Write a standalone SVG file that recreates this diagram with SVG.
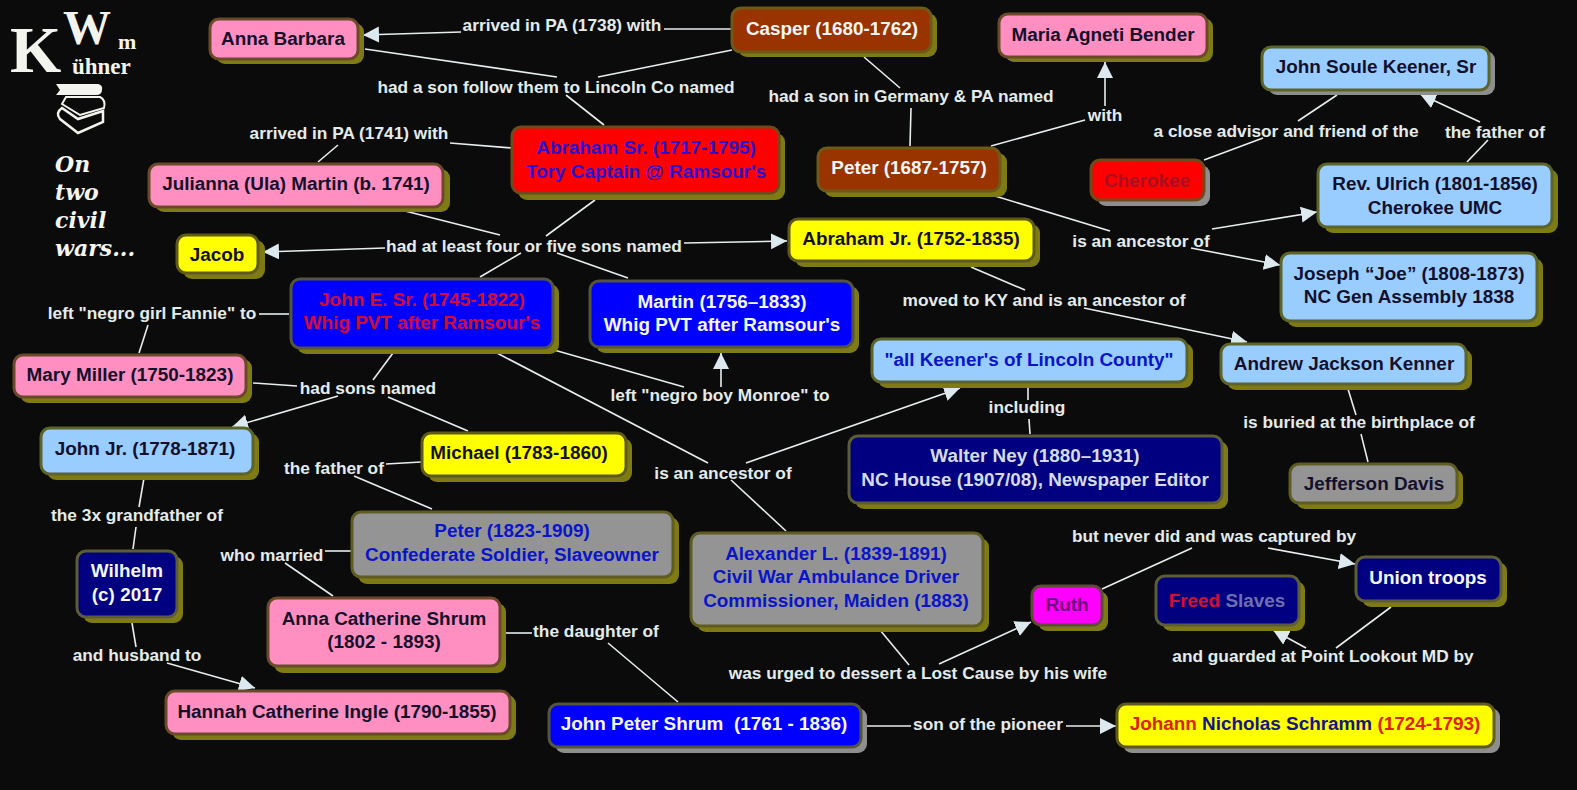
<svg xmlns="http://www.w3.org/2000/svg" width="1577" height="790" viewBox="0 0 1577 790">
<style>
.s{fill:#7e7b14}.sg{fill:#8e8e8e}
.b{stroke-width:3}
.pink{fill:#ff8fc0;stroke:#6b4a2a}.lb{fill:#99ccff;stroke:#5c6428}.yl{fill:#ffff00;stroke:#5e5a1c}.bl{fill:#0000ff;stroke:#55553e}.nv{fill:#000080;stroke:#5c5c36}.gr{fill:#949494;stroke:#5e5c20}.br{fill:#993300;stroke:#6e5a18}.rd{fill:#ff0000;stroke:#6f4a1a}.mg{fill:#ff00ff;stroke:#604a3a}
text{font-family:"Liberation Sans",Arial,sans-serif;font-weight:700;font-size:18.9px;text-anchor:middle}
#labels text{font-size:17.3px}
.l{fill:#e4ebeb}.d{fill:#14102c}.w{fill:#f4f6f6}.u{fill:#0a14c8}
.c line{stroke:#e8eef0;stroke-width:1.6}
.a{marker-end:url(#arr)}
#logo .logo{font-family:"Liberation Serif",serif;fill:#f4f4ee;text-anchor:start}
#logo .say{font-family:"DejaVu Serif",serif;font-style:italic;font-size:22px;fill:#f6f6f0;text-anchor:start}
</style>
<defs>
<marker id="arr" markerUnits="userSpaceOnUse" markerWidth="18" markerHeight="18" refX="16" refY="8" orient="auto"><path d="M0,0L16,8L0,16Z" fill="#dce9ee"/></marker>
</defs>
<rect width="1577" height="790" fill="#0b0b0b"/>
<g id="logo">
<text class="logo" x="10" y="72" style="font-size:66px">K</text>
<text class="logo" x="63" y="44" style="font-size:48px">W</text>
<text class="logo" x="118" y="49" style="font-size:22px">m</text>
<text class="logo" x="72" y="74" style="font-size:23px">ühner</text>
<path d="M56,84H98Q103,85 102,90Q102,95 96,95H56L60,90Z" fill="#f4f4ee"/>
<path d="M62,104L66,97H100Q106,100 104,108L80,115Z" fill="none" stroke="#f4f4ee" stroke-width="2"/>
<path d="M62,108Q55,113 60,119L78,133L103,122V111L78,119L62,108Z" fill="none" stroke="#f4f4ee" stroke-width="2.5"/>
<text class="say" x="55" y="172">On</text>
<text class="say" x="55" y="200">two</text>
<text class="say" x="55" y="228">civil</text>
<text class="say" x="55" y="256">wars...</text>
</g>
<g id="connectors" class="c">
<line x1="664" y1="29" x2="732" y2="29"/>
<line class="a" x1="461" y1="32" x2="363" y2="35"/>
<line x1="732" y1="50" x2="598" y2="77"/>
<line x1="365" y1="49" x2="557" y2="77"/>
<line x1="566" y1="95" x2="604" y2="125"/>
<line x1="864" y1="57" x2="900" y2="88"/>
<line x1="911" y1="108" x2="910" y2="146"/>
<line x1="991" y1="146" x2="1085" y2="120"/>
<line class="a" x1="1105" y1="106" x2="1105" y2="62"/>
<line x1="1204" y1="160" x2="1263" y2="138"/>
<line x1="1298" y1="121" x2="1337" y2="95"/>
<line x1="1467" y1="162" x2="1488" y2="140"/>
<line class="a" x1="1480" y1="122" x2="1420" y2="94"/>
<line x1="995" y1="196" x2="1110" y2="231"/>
<line class="a" x1="1212" y1="229" x2="1317" y2="212"/>
<line class="a" x1="1191" y1="248" x2="1280" y2="265"/>
<line x1="971" y1="267" x2="1025" y2="290"/>
<line class="a" x1="1084" y1="308" x2="1247" y2="342"/>
<line x1="405" y1="211" x2="500" y2="235"/>
<line x1="595" y1="200" x2="546" y2="236"/>
<line class="a" x1="385" y1="248" x2="263" y2="252"/>
<line class="a" x1="684" y1="243" x2="787" y2="241"/>
<line x1="521" y1="253" x2="480" y2="277"/>
<line x1="557" y1="253" x2="628" y2="278"/>
<line x1="450" y1="143" x2="512" y2="148"/>
<line x1="338" y1="145" x2="318" y2="162"/>
<line x1="289" y1="314" x2="259" y2="314"/>
<line x1="148" y1="325" x2="139" y2="353"/>
<line x1="253" y1="383" x2="297" y2="386"/>
<line x1="393" y1="353" x2="373" y2="380"/>
<line class="a" x1="338" y1="396" x2="232" y2="427"/>
<line x1="388" y1="397" x2="468" y2="431"/>
<line x1="421" y1="462" x2="386" y2="464"/>
<line x1="354" y1="476" x2="432" y2="509"/>
<line x1="144" y1="478" x2="139" y2="507"/>
<line x1="136" y1="527" x2="133" y2="549"/>
<line x1="132" y1="623" x2="136" y2="647"/>
<line class="a" x1="167" y1="663" x2="255" y2="688"/>
<line x1="352" y1="551" x2="325" y2="551"/>
<line x1="285" y1="563" x2="333" y2="596"/>
<line x1="504" y1="633" x2="532" y2="633"/>
<line x1="608" y1="643" x2="678" y2="702"/>
<line x1="865" y1="726" x2="911" y2="726"/>
<line class="a" x1="1066" y1="726" x2="1116" y2="726"/>
<line x1="880" y1="630" x2="909" y2="665"/>
<line class="a" x1="939" y1="664" x2="1031" y2="622"/>
<line x1="1102" y1="589" x2="1192" y2="548"/>
<line class="a" x1="1268" y1="548" x2="1355" y2="564"/>
<line x1="1391" y1="607" x2="1336" y2="648"/>
<line class="a" x1="1306" y1="648" x2="1273" y2="630"/>
<line x1="554" y1="350" x2="684" y2="387"/>
<line class="a" x1="721" y1="387" x2="721" y2="353"/>
<line x1="495" y1="352" x2="708" y2="463"/>
<line x1="731" y1="480" x2="786" y2="531"/>
<line class="a" x1="746" y1="463" x2="960" y2="388"/>
<line x1="1028" y1="388" x2="1028" y2="400"/>
<line x1="1029" y1="419" x2="1030" y2="434"/>
<line x1="1348" y1="389" x2="1356" y2="415"/>
<line x1="1361" y1="434" x2="1368" y2="462"/>
</g>
<g id="labels">
<text class="l" x="562" y="31">arrived in PA (1738) with</text>
<text class="l" x="556" y="93">had a son follow them to Lincoln Co named</text>
<text class="l" x="911" y="102">had a son in Germany &amp; PA named</text>
<text class="l" x="1105" y="121">with</text>
<text class="l" x="1286" y="137">a close advisor and friend of the</text>
<text class="l" x="1495" y="138">the father of</text>
<text class="l" x="349" y="139">arrived in PA (1741) with</text>
<text class="l" x="534" y="252">had at least four or five sons named</text>
<text class="l" x="1141" y="247">is an ancestor of</text>
<text class="l" x="1044" y="306">moved to KY and is an ancestor of</text>
<text class="l" x="152" y="319">left "negro girl Fannie" to</text>
<text class="l" x="368" y="394">had sons named</text>
<text class="l" x="720" y="401">left "negro boy Monroe" to</text>
<text class="l" x="1027" y="413">including</text>
<text class="l" x="1359" y="428">is buried at the birthplace of</text>
<text class="l" x="334" y="474">the father of</text>
<text class="l" x="723" y="479">is an ancestor of</text>
<text class="l" x="137" y="521">the 3x grandfather of</text>
<text class="l" x="1214" y="542">but never did and was captured by</text>
<text class="l" x="272" y="561">who married</text>
<text class="l" x="1323" y="662">and guarded at Point Lookout MD by</text>
<text class="l" x="596" y="637">the daughter of</text>
<text class="l" x="137" y="661">and husband to</text>
<text class="l" x="918" y="679">was urged to dessert a Lost Cause by his wife</text>
<text class="l" x="988" y="730">son of the pioneer</text>
</g>
<g id="anna-barbara"><rect class="s" x="216" y="23" width="148" height="41" rx="9"/><rect class="b pink" x="210" y="19" width="148" height="40" rx="9"/><text class="d" x="283" y="45">Anna Barbara</text></g>
<g id="casper"><rect class="s" x="738" y="13" width="199" height="44" rx="9"/><rect class="b br" x="732" y="8" width="199" height="44" rx="9"/><text class="w" x="832" y="35">Casper (1680-1762)</text></g>
<g id="maria"><rect class="s" x="1005" y="18" width="208" height="44" rx="9"/><rect class="b pink" x="999" y="14" width="208" height="43" rx="9"/><text class="d" x="1103" y="41">Maria Agneti Bender</text></g>
<g id="john-soule"><rect class="sg" x="1268" y="51" width="227" height="44" rx="9"/><rect class="b lb" x="1262" y="47" width="227" height="43" rx="9"/><text class="d" x="1376" y="73">John Soule Keener, Sr</text></g>
<g id="abraham-sr"><rect class="s" x="518" y="133" width="267" height="67" rx="9"/><rect class="b rd" x="512" y="127" width="267" height="66" rx="9"/><text x="646" y="154" fill="#2a10d0">Abraham Sr. (1717-1795)</text><text x="646" y="178" fill="#2a10d0">Tory Captain @ Ramsour's</text></g>
<g id="julianna"><rect class="s" x="155" y="169" width="295" height="43" rx="9"/><rect class="b pink" x="149" y="164" width="294" height="43" rx="9"/><text class="d" x="296" y="190">Julianna (Ula) Martin (b. 1741)</text></g>
<g id="peter-1687"><rect class="s" x="824" y="153" width="183" height="44" rx="9"/><rect class="b br" x="818" y="148" width="182" height="43" rx="9"/><text class="w" x="909" y="174">Peter (1687-1757)</text></g>
<g id="cherokee"><rect class="sg" x="1097" y="165" width="113" height="41" rx="9"/><rect class="b rd" x="1091" y="160" width="113" height="40" rx="9"/><text x="1147" y="187" fill="#a81020">Cherokee</text></g>
<g id="ulrich"><rect class="s" x="1324" y="169" width="234" height="64" rx="9"/><rect class="b lb" x="1318" y="164" width="234" height="63" rx="9"/><text class="d" x="1435" y="190">Rev. Ulrich (1801-1856)</text><text class="d" x="1435" y="214">Cherokee UMC</text></g>
<g id="jacob"><rect class="s" x="183" y="240" width="82" height="39" rx="9"/><rect class="b yl" x="177" y="235" width="81" height="38" rx="9"/><text class="d" x="217" y="261">Jacob</text></g>
<g id="abraham-jr"><rect class="s" x="795" y="224" width="245" height="43" rx="9"/><rect class="b yl" x="789" y="219" width="245" height="42" rx="9"/><text class="d" x="911" y="245">Abraham Jr. (1752-1835)</text></g>
<g id="joseph"><rect class="s" x="1287" y="258" width="256" height="69" rx="9"/><rect class="b lb" x="1281" y="253" width="256" height="68" rx="9"/><text class="d" x="1409" y="280">Joseph “Joe” (1808-1873)</text><text class="d" x="1409" y="303">NC Gen Assembly 1838</text></g>
<g id="john-e"><rect class="s" x="297" y="284" width="262" height="70" rx="9"/><rect class="b bl" x="291" y="279" width="262" height="69" rx="9"/><text x="422" y="306" fill="#d40a32">John E. Sr. (1745-1822)</text><text x="422" y="329" fill="#d40a32">Whig PVT after Ramsour's</text></g>
<g id="martin"><rect class="s" x="596" y="286" width="263" height="67" rx="9"/><rect class="b bl" x="590" y="281" width="263" height="66" rx="9"/><text class="w" x="722" y="308">Martin (1756–1833)</text><text class="w" x="722" y="331">Whig PVT after Ramsour's</text></g>
<g id="mary"><rect class="s" x="20" y="359" width="232" height="44" rx="9"/><rect class="b pink" x="14" y="355" width="232" height="42" rx="9"/><text class="d" x="130" y="381">Mary Miller (1750-1823)</text></g>
<g id="all-keeners"><rect class="s" x="878" y="343" width="315" height="45" rx="9"/><rect class="b lb" x="872" y="339" width="315" height="43" rx="9"/><text x="1029" y="366" fill="#0a14c8">"all Keener's of Lincoln County"</text></g>
<g id="andrew"><rect class="s" x="1227" y="349" width="245" height="41" rx="9"/><rect class="b lb" x="1221" y="344" width="245" height="40" rx="9"/><text class="d" x="1344" y="370">Andrew Jackson Kenner</text></g>
<g id="john-jr"><rect class="s" x="47" y="433" width="212" height="47" rx="9"/><rect class="b lb" x="41" y="428" width="212" height="46" rx="9"/><text class="d" x="145" y="455">John Jr. (1778-1871)</text></g>
<g id="michael"><rect class="s" x="428" y="438" width="204" height="44" rx="9"/><rect class="b yl" x="422" y="433" width="204" height="43" rx="9"/><text class="d" x="519" y="459">Michael (1783-1860)</text></g>
<g id="walter"><rect class="s" x="855" y="441" width="373" height="68" rx="9"/><rect class="b nv" x="849" y="436" width="373" height="67" rx="9"/><text x="1035" y="462" fill="#d5dbe8">Walter Ney (1880–1931)</text><text x="1035" y="486" fill="#d5dbe8">NC House (1907/08), Newspaper Editor</text></g>
<g id="jefferson"><rect class="s" x="1296" y="469" width="167" height="40" rx="9"/><rect class="b gr" x="1290" y="464" width="167" height="39" rx="9"/><text class="d" x="1374" y="490">Jefferson Davis</text></g>
<g id="peter-1823"><rect class="s" x="358" y="517" width="321" height="67" rx="9"/><rect class="b gr" x="352" y="512" width="321" height="65" rx="9"/><text class="u" x="512" y="537">Peter (1823-1909)</text><text class="u" x="512" y="561">Confederate Soldier, Slaveowner</text></g>
<g id="alexander"><rect class="s" x="697" y="538" width="292" height="94" rx="9"/><rect class="b gr" x="691" y="533" width="292" height="93" rx="9"/><text class="u" x="836" y="560">Alexander L. (1839-1891)</text><text class="u" x="836" y="583">Civil War Ambulance Driver</text><text class="u" x="836" y="607">Commissioner, Maiden (1883)</text></g>
<g id="wilhelm"><rect class="s" x="83" y="556" width="100" height="67" rx="9"/><rect class="b nv" x="77" y="551" width="100" height="66" rx="9"/><text class="w" x="127" y="577">Wilhelm</text><text class="w" x="127" y="601">(c) 2017</text></g>
<g id="ruth"><rect class="s" x="1038" y="591" width="70" height="40" rx="9"/><rect class="b mg" x="1032" y="586" width="70" height="39" rx="9"/><text x="1067" y="611" fill="#6a0a80">Ruth</text></g>
<g id="freed"><rect class="s" x="1162" y="581" width="143" height="50" rx="9"/><rect class="b nv" x="1156" y="576" width="143" height="49" rx="9"/><text x="1227" y="607"><tspan fill="#d4102e">Freed</tspan><tspan fill="#6f6fb0"> Slaves</tspan></text></g>
<g id="union"><rect class="s" x="1362" y="562" width="145" height="45" rx="9"/><rect class="b nv" x="1356" y="557" width="145" height="44" rx="9"/><text class="w" x="1428" y="584">Union troops</text></g>
<g id="anna-catherine"><rect class="s" x="274" y="603" width="232" height="70" rx="9"/><rect class="b pink" x="268" y="598" width="232" height="68" rx="9"/><text class="d" x="384" y="625">Anna Catherine Shrum</text><text class="d" x="384" y="648">(1802 - 1893)</text></g>
<g id="hannah"><rect class="s" x="172" y="695" width="344" height="45" rx="9"/><rect class="b pink" x="166" y="691" width="344" height="43" rx="9"/><text class="d" x="337" y="718">Hannah Catherine Ingle (1790-1855)</text></g>
<g id="john-peter"><rect class="sg" x="555" y="708" width="312" height="45" rx="9"/><rect class="b bl" x="549" y="704" width="312" height="43" rx="9"/><text class="w" x="704" y="730" style="white-space:pre">John Peter Shrum  (1761 - 1836)</text></g>
<g id="johann"><rect class="sg" x="1123" y="708" width="377" height="45" rx="9"/><rect class="b yl" x="1117" y="704" width="377" height="43" rx="9"/><text x="1305" y="730"><tspan fill="#dd2200">Johann</tspan><tspan fill="#14148c"> Nicholas Schramm</tspan><tspan fill="#dd2200"> (1724-1793)</tspan></text></g>
</svg>
